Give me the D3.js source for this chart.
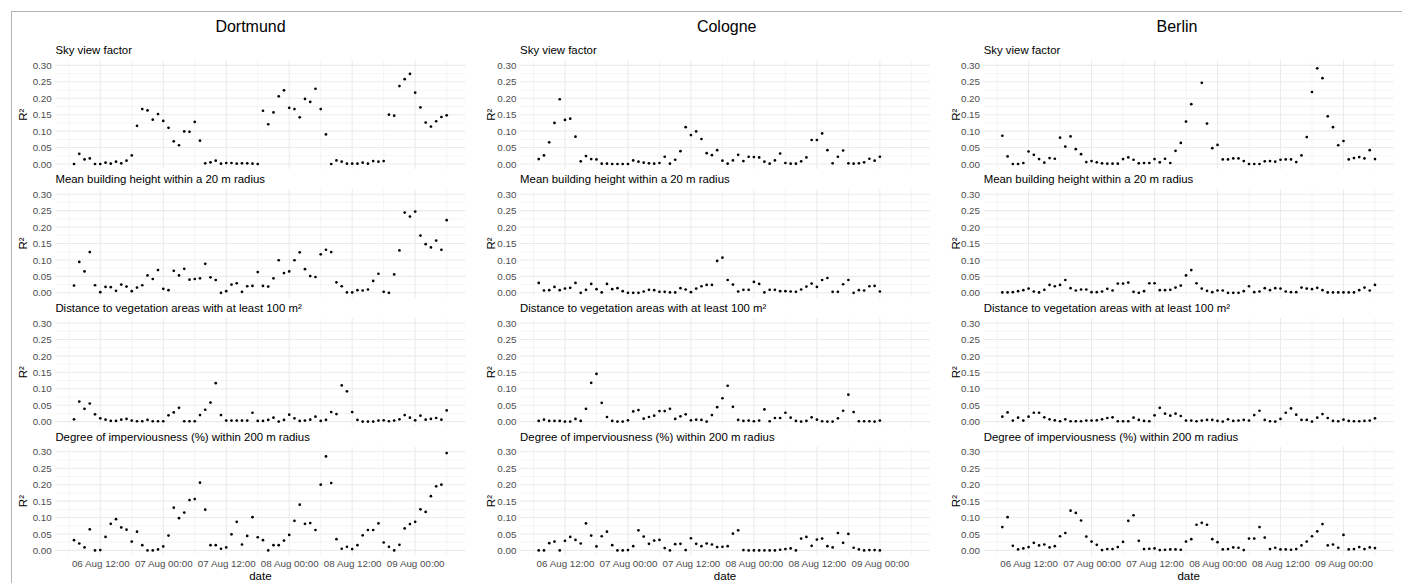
<!DOCTYPE html>
<html><head><meta charset="utf-8">
<script src="https://cdn.jsdelivr.net/npm/d3@7"></script>
<style>
body{margin:0;background:#fff;}
svg{display:block;font-family:"Liberation Sans",Arial,Helvetica,sans-serif;}
</style>
</head><body>
<svg id="chart" width="1402" height="583"></svg>
<script>
// ---------------- data ----------------
const cities = ["Dortmund", "Cologne", "Berlin"];
const variables = [
  "Sky view factor",
  "Mean building height within a 20 m radius",
  "Distance to vegetation areas with at least 100 m²",
  "Degree of imperviousness (%) within 200 m radius"
];
const firstHour = "2021-08-06T07:00"; // hourly series start
const yTicks = [0.00, 0.05, 0.10, 0.15, 0.20, 0.25, 0.30];
const xTickTimes = ["2021-08-06T12:00", "2021-08-07T00:00", "2021-08-07T12:00",
                    "2021-08-08T00:00", "2021-08-08T12:00", "2021-08-09T00:00"];
const xTitle = "date";
const yTitle = "R²";

const dortmundSvf = [0.000,0.031,0.014,0.017,0.000,0.000,0.004,0.001,0.007,0.002,
  0.010,0.026,0.116,0.167,0.163,0.135,0.152,0.131,0.110,0.069,
  0.057,0.099,0.098,0.128,0.071,0.002,0.005,0.010,0.001,0.003,
  0.003,0.001,0.002,0.002,0.001,0.000,0.162,0.121,0.157,0.206,
  0.224,0.171,0.167,0.142,0.198,0.189,0.229,0.167,0.090,0.000,
  0.011,0.007,0.001,0.001,0.001,0.004,0.001,0.009,0.007,0.009,
  0.150,0.147,0.237,0.258,0.274,0.217,0.172,0.126,0.114,0.130,
  0.143,0.148];
const dortmundMbh = [0.022,0.094,0.065,0.124,0.023,0.002,0.018,0.017,0.006,0.025,
  0.019,0.005,0.016,0.023,0.053,0.042,0.069,0.012,0.008,0.067,
  0.053,0.073,0.040,0.042,0.044,0.088,0.047,0.039,0.000,0.005,
  0.025,0.029,0.003,0.020,0.021,0.063,0.021,0.019,0.044,0.099,
  0.060,0.065,0.099,0.123,0.072,0.051,0.048,0.117,0.131,0.124,
  0.032,0.020,0.001,0.001,0.008,0.007,0.010,0.036,0.058,0.003,
  0.000,0.056,0.129,0.244,0.232,0.247,0.174,0.148,0.138,0.159,
  0.131,0.221];
const dortmundVeg = [0.007,0.061,0.039,0.055,0.022,0.010,0.006,0.002,0.002,0.006,
  0.008,0.003,0.001,0.001,0.005,0.001,0.001,0.001,0.019,0.028,
  0.042,0.001,0.001,0.001,0.020,0.036,0.058,0.117,0.020,0.003,
  0.003,0.003,0.003,0.003,0.027,0.002,0.002,0.005,0.012,0.000,
  0.005,0.021,0.010,0.002,0.003,0.006,0.015,0.002,0.005,0.029,
  0.023,0.110,0.092,0.029,0.005,0.000,0.000,0.000,0.003,0.004,
  0.001,0.003,0.007,0.020,0.012,0.004,0.018,0.006,0.008,0.011,
  0.006,0.034];
const dortmundImp = [0.031,0.021,0.009,0.064,0.000,0.001,0.041,0.081,0.095,0.070,
  0.063,0.027,0.057,0.016,0.000,0.000,0.003,0.012,0.045,0.130,
  0.098,0.115,0.153,0.156,0.206,0.124,0.016,0.016,0.005,0.009,
  0.049,0.087,0.018,0.044,0.101,0.040,0.031,0.000,0.016,0.016,
  0.030,0.047,0.090,0.139,0.081,0.083,0.062,0.200,0.286,0.205,
  0.034,0.005,0.011,0.004,0.016,0.046,0.062,0.062,0.082,0.024,
  0.011,0.000,0.017,0.067,0.080,0.087,0.125,0.117,0.165,0.195,
  0.200,0.296];

const cologneSvf = [0.015,0.026,0.066,0.125,0.197,0.134,0.138,0.083,0.008,0.024,
  0.015,0.014,0.001,0.001,0.000,0.000,0.000,0.000,0.011,0.007,
  0.004,0.002,0.001,0.003,0.022,0.001,0.013,0.039,0.112,0.088,
  0.099,0.076,0.033,0.027,0.042,0.010,0.001,0.011,0.028,0.009,
  0.022,0.021,0.020,0.007,0.001,0.011,0.032,0.003,0.001,0.001,
  0.008,0.020,0.073,0.073,0.093,0.042,0.002,0.022,0.041,0.002,
  0.001,0.002,0.005,0.016,0.010,0.022];
const cologneMbh = [0.030,0.007,0.008,0.018,0.008,0.013,0.015,0.030,0.000,0.009,
  0.027,0.011,0.001,0.027,0.011,0.014,0.005,0.000,0.000,0.000,
  0.004,0.009,0.008,0.003,0.003,0.001,0.001,0.014,0.010,0.002,
  0.013,0.020,0.024,0.024,0.097,0.107,0.039,0.025,0.004,0.009,
  0.009,0.033,0.027,0.001,0.009,0.009,0.005,0.005,0.004,0.003,
  0.010,0.019,0.028,0.018,0.039,0.045,0.003,0.003,0.026,0.039,
  0.000,0.008,0.007,0.020,0.021,0.004];
const cologneVeg = [0.002,0.006,0.002,0.002,0.002,0.000,0.000,0.008,0.002,0.039,
  0.118,0.145,0.057,0.014,0.002,0.000,0.000,0.004,0.031,0.035,
  0.009,0.014,0.018,0.032,0.032,0.039,0.008,0.016,0.022,0.004,
  0.006,0.005,0.000,0.020,0.044,0.071,0.109,0.045,0.005,0.002,
  0.003,0.001,0.003,0.037,0.001,0.011,0.011,0.027,0.012,0.002,
  0.000,0.002,0.013,0.006,0.001,0.000,0.000,0.010,0.033,0.082,
  0.029,0.001,0.001,0.001,0.000,0.003];
const cologneImp = [0.000,0.000,0.022,0.027,0.000,0.029,0.041,0.032,0.021,0.082,
  0.045,0.012,0.043,0.057,0.016,0.000,0.000,0.001,0.013,0.061,
  0.042,0.020,0.030,0.032,0.007,0.000,0.019,0.020,0.001,0.037,
  0.020,0.013,0.021,0.018,0.010,0.011,0.013,0.051,0.061,0.001,
  0.000,0.000,0.000,0.000,0.000,0.000,0.002,0.004,0.006,0.000,
  0.036,0.041,0.014,0.033,0.036,0.013,0.009,0.053,0.023,0.050,
  0.008,0.003,0.000,0.001,0.001,0.000];

const berlinSvf = [0.086,0.023,0.000,0.000,0.003,0.038,0.028,0.015,0.004,0.018,
  0.016,0.080,0.053,0.084,0.045,0.030,0.006,0.009,0.005,0.002,
  0.001,0.001,0.001,0.015,0.020,0.013,0.002,0.003,0.003,0.015,
  0.005,0.016,0.003,0.040,0.064,0.129,0.182,null,0.247,0.123,
  0.048,0.058,0.014,0.014,0.017,0.017,0.009,0.000,0.000,0.000,
  0.008,0.009,0.007,0.013,0.014,0.014,0.006,0.026,0.082,0.219,
  0.291,0.261,0.145,0.112,0.057,0.070,0.014,0.018,0.021,0.017,
  0.042,0.015];
const berlinMbh = [0.001,0.001,0.002,0.005,0.008,0.013,0.004,0.001,0.009,0.024,
  0.020,0.024,0.039,0.014,0.007,0.010,0.010,0.002,0.002,0.004,
  0.012,0.007,0.028,0.028,0.031,0.003,0.000,0.005,0.029,0.029,
  0.008,0.008,0.009,0.016,0.022,0.053,0.069,0.029,0.013,0.006,
  0.002,0.007,0.007,0.000,0.000,0.000,0.005,0.020,0.002,0.004,
  0.014,0.008,0.014,0.013,0.004,0.002,0.002,0.016,0.013,0.011,
  0.015,0.008,0.001,0.001,0.001,0.001,0.001,0.001,0.008,0.016,
  0.007,0.024];
const berlinVeg = [0.015,0.028,0.003,0.012,0.003,0.015,0.027,0.027,0.013,0.007,
  0.004,0.001,0.007,0.001,0.001,0.001,0.003,0.003,0.004,0.007,
  0.011,0.013,0.001,0.001,0.001,0.012,0.005,0.002,0.001,0.019,
  0.042,0.024,0.018,0.024,0.017,0.003,0.003,0.001,0.003,0.005,
  0.005,0.002,0.000,0.007,0.002,0.003,0.005,0.003,0.020,0.033,
  0.005,0.001,0.000,0.008,0.027,0.040,0.021,0.005,0.005,0.000,
  0.012,0.023,0.011,0.002,0.001,0.006,0.002,0.001,0.001,0.002,
  0.003,0.010];
const berlinImp = [0.071,0.101,0.014,0.003,0.006,0.010,0.023,0.015,0.018,0.009,
  0.013,0.043,0.053,0.121,0.114,0.091,0.042,0.027,0.017,0.001,
  0.004,0.004,0.010,0.026,0.090,0.107,0.029,0.004,0.005,0.006,
  0.001,0.002,0.003,0.003,0.002,0.027,0.034,0.078,0.084,0.078,
  0.034,0.025,0.003,0.004,0.009,0.008,0.001,0.036,0.036,0.071,
  0.039,0.004,0.008,0.003,0.003,0.002,0.004,0.015,0.027,0.043,
  0.058,0.080,0.015,0.018,0.008,0.047,0.003,0.004,0.010,0.004,
  0.009,0.007];

const seriesByCity = [
  [dortmundSvf, dortmundMbh, dortmundVeg, dortmundImp],
  [cologneSvf, cologneMbh, cologneVeg, cologneImp],
  [berlinSvf, berlinMbh, berlinVeg, berlinImp]
];

// ---------------- layout ----------------
const parse = d3.utcParse("%Y-%m-%dT%H:%M");
const fmt = d3.utcFormat("%d %b %H:%M");
const t0 = parse(firstHour);
const nHours = d3.max(seriesByCity.flat(), s => s.length);
const times = d3.range(nHours).map(i => d3.utcHour.offset(t0, i));
const tExt = d3.extent(times);
const pad = (tExt[1] - tExt[0]) * 0.05;
const xDomain = [new Date(+tExt[0] - pad), new Date(+tExt[1] + pad)];

const panelLeft = [55.4, 520.1, 983.7];
const panelW = 409.9;
const zeroY0 = 164, rowStep = 128.8, pxPerUnit = 328.7;
const yDomain = [-0.015, 0.315];
const titleX = [250.5, 726.7, 1177];
const yTitleX = [23.3, 490.8, 955.8];

const svg = d3.select("#chart");
svg.append("rect").attr("width",1402).attr("height",583).attr("fill","#fff");

// outer border (top and left edges visible)
svg.append("line").attr("x1",11).attr("x2",1402).attr("y1",11.5).attr("y2",11.5)
  .attr("stroke","#b3b3b3").attr("stroke-width",1);
svg.append("line").attr("x1",11.5).attr("x2",11.5).attr("y1",11).attr("y2",583)
  .attr("stroke","#b3b3b3").attr("stroke-width",1);

const yMinor = d3.pairs(yTicks).map(p => (p[0]+p[1])/2);
const gridTimes = d3.utcHour.every(6).range(xDomain[0], xDomain[1]);
const xMajorT = xTickTimes.map(parse);
const xMinorT = gridTimes.filter(t => !xMajorT.some(m => +m === +t));

cities.forEach((city, c) => {
  const x = d3.scaleUtc().domain(xDomain).range([panelLeft[c], panelLeft[c] + panelW]);
  svg.append("text").attr("x", titleX[c]).attr("y", 32.3)
    .attr("text-anchor","middle").attr("font-size",16).attr("fill","#000").text(city);

  variables.forEach((v, r) => {
    const zeroY = zeroY0 + rowStep * r;
    const yTop = zeroY - (yDomain[1]) * pxPerUnit;
    const yBot = zeroY - (yDomain[0]) * pxPerUnit;
    const y = d3.scaleLinear().domain(yDomain).range([yBot, yTop]);
    const g = svg.append("g");

    // grid
    g.selectAll(".ymin").data(yMinor).join("line")
      .attr("x1", panelLeft[c]).attr("x2", panelLeft[c] + panelW)
      .attr("y1", d => y(d)).attr("y2", d => y(d))
      .attr("stroke","#ebebeb").attr("stroke-width",0.55);
    g.selectAll(".xmin").data(xMinorT).join("line")
      .attr("x1", d => x(d)).attr("x2", d => x(d))
      .attr("y1", yTop).attr("y2", yBot)
      .attr("stroke","#ebebeb").attr("stroke-width",0.55);
    g.selectAll(".ymaj").data(yTicks).join("line")
      .attr("x1", panelLeft[c]).attr("x2", panelLeft[c] + panelW)
      .attr("y1", d => y(d)).attr("y2", d => y(d))
      .attr("stroke","#ebebeb").attr("stroke-width",1.07);
    g.selectAll(".xmaj").data(xMajorT).join("line")
      .attr("x1", d => x(d)).attr("x2", d => x(d))
      .attr("y1", yTop).attr("y2", yBot)
      .attr("stroke","#ebebeb").attr("stroke-width",1.07);

    // y axis
    const ya = g.append("g").attr("transform", `translate(${panelLeft[c]},0)`)
      .call(d3.axisLeft(y).tickValues(yTicks).tickFormat(d3.format(".2f")).tickSize(0).tickPadding(3.7));
    ya.select(".domain").remove();
    ya.selectAll("text").attr("font-size", 9.8).attr("fill", "#4d4d4d")
      .attr("font-family", '"Liberation Sans",Arial,sans-serif');

    // y title
    g.append("text").attr("transform", `translate(${yTitleX[c]},${(y(0)+y(0.3))/2}) rotate(-90)`)
      .attr("text-anchor","middle").attr("dy","0.35em").attr("font-size",11.5).attr("fill","#000").text(yTitle);

    // subtitle
    g.append("text").attr("x", panelLeft[c]).attr("y", y(0.30) - 11)
      .attr("font-size",11.4).attr("fill","#000").text(v);

    // x axis labels on bottom row
    if (r === variables.length - 1) {
      const xa = g.append("g").attr("transform", `translate(0,${yBot})`)
        .call(d3.axisBottom(x).tickValues(xMajorT).tickFormat(fmt).tickSize(0).tickPadding(5.2));
      xa.select(".domain").remove();
      xa.selectAll("text").attr("font-size", 9.8).attr("fill", "#4d4d4d")
        .attr("font-family", '"Liberation Sans",Arial,sans-serif');
      g.append("text").attr("x", panelLeft[c] + panelW/2).attr("y", 580.2)
        .attr("text-anchor","middle").attr("font-size",11.5).attr("fill","#000").text(xTitle);
    }

    // points
    const vals = seriesByCity[c][r];
    const pts = vals.map((val, i) => ({t: times[i], v: val})).filter(d => d.v !== null);
    g.selectAll("circle").data(pts).join("circle")
      .attr("cx", d => x(d.t)).attr("cy", d => y(d.v)).attr("r", 1.35).attr("fill", "#000");
  });
});
</script>
</body></html>
